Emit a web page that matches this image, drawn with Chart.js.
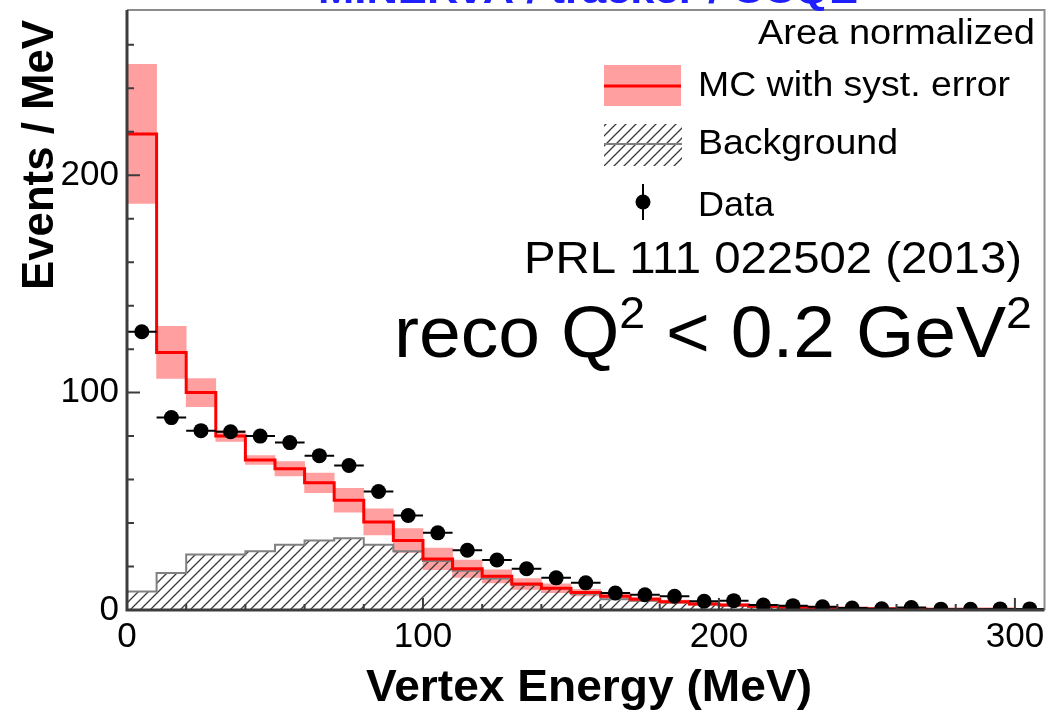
<!DOCTYPE html>
<html>
<head>
<meta charset="utf-8">
<title>Vertex Energy</title>
<script src="https://cdn.jsdelivr.net/npm/chart.js@4/dist/chart.umd.min.js"></script>
<style>
  html, body { margin: 0; padding: 0; background: #fff; }
  canvas { display: block; }
</style>
</head>
<body>
<canvas id="vertex-chart" width="1052" height="711"></canvas>
<script>
// Lower edges of the 10 MeV vertex energy bins
const binStarts = [0, 10, 20, 30, 40, 50, 60, 70, 80, 90, 100, 110, 120, 130, 140, 150,
    160, 170, 180, 190, 200, 210, 220, 230, 240, 250, 260, 270, 280, 290, 300];
const binWidth = 10;

// MC prediction (events / MeV) and its systematic error
const mcValues = [219, 118.5, 100, 80, 69, 65, 58.5, 50.5, 40.5, 32, 23.5, 19, 15.5, 12, 10, 8,
    6.3, 5, 3.8, 2.8, 2.3, 1.7, 1.3, 1.0, 0.8, 0.6, 0.5, 0.4, 0.3, 0.3, 0.2];
const mcSyst = [32, 12, 6.5, 2.5, 2, 3.3, 4.5, 5.5, 6, 5.5, 5, 4, 3, 2.5, 2, 1.5,
    1.2, 1, 0.8, 0.6, 0.5, 0.4, 0.3, 0.2, 0.2, 0.15, 0.1, 0.1, 0.1, 0.1, 0.1];

// Background component
const bkgValues = [8.5, 17, 25.5, 25.5, 27, 30, 32, 33, 30, 27, 22.5, 18, 14.5, 11.5, 10, 7.5,
    5, 4.3, 3.5, 2.6, 2.1, 1.5, 1.1, 0.9, 0.7, 0.5, 0.4, 0.3, 0.3, 0.2, 0.2];

// Data points (bin centres) with statistical errors
const dataValues = [128, 88.5, 82.5, 82, 80, 77, 71, 66.5, 54.5, 43.5, 35.5, 27.5, 23, 19, 14.8, 12.5,
    7.8, 7, 6.3, 4, 4.3, 2.3, 2.0, 1.5, 0.9, 0.6, 1.1, 0.4, 0.3, 0.5, 0.5];
const dataErrors = [2.5, 2, 2, 2, 2, 2, 1.9, 1.8, 1.7, 1.5, 1.4, 1.2, 1.1, 1, 0.9, 0.8,
    0.7, 0.6, 0.6, 0.5, 0.5, 0.4, 0.3, 0.3, 0.2, 0.2, 0.2, 0.1, 0.1, 0.1, 0.1];

const xTickLabels = [0, 100, 200, 300];
const yTickLabels = [0, 100, 200];

const fontFamily = "'Liberation Sans', Arial, Helvetica, sans-serif";

// Diagonal hatch used for the background fill
function makeHatch() {
    const c = document.createElement('canvas');
    c.width = 10;
    c.height = 10;
    const g = c.getContext('2d');
    g.strokeStyle = '#3a3a3a';
    g.lineWidth = 1.3;
    g.beginPath();
    g.moveTo(0, 10); g.lineTo(10, 0);
    g.moveTo(-5, 5); g.lineTo(5, -5);
    g.moveTo(5, 15); g.lineTo(15, 5);
    g.stroke();
    return g.createPattern(c, 'repeat');
}
const hatch = makeHatch();

// Histogram outline: one point per lower bin edge plus the closing edge
function histPoints(values) {
    const pts = binStarts.map((x, i) => ({ x: x, y: values[i] }));
    pts.push({ x: binStarts[binStarts.length - 1] + binWidth, y: values[values.length - 1] });
    return pts;
}

// Draw text squeezed or stretched to a given width
function fitText(ctx, text, x, y, width) {
    const w = ctx.measureText(text).width;
    ctx.save();
    ctx.translate(x, y);
    ctx.scale(width / w, 1);
    ctx.fillText(text, 0, 0);
    ctx.restore();
}

// Text runs with superscripts, e.g. reco Q^2 < 0.2 GeV^2
function drawRich(ctx, parts, x, y, size, width) {
    let total = 0;
    parts.forEach(p => {
        ctx.font = `${p.sup ? size * 0.62 : size}px ${fontFamily}`;
        p.w = ctx.measureText(p.t).width;
        total += p.w;
    });
    const k = width / total;
    ctx.save();
    ctx.translate(x, y);
    ctx.scale(k, 1);
    let cx = 0;
    parts.forEach(p => {
        ctx.font = `${p.sup ? size * 0.62 : size}px ${fontFamily}`;
        ctx.fillText(p.t, cx, p.sup ? -size * 0.40 : 0);
        cx += p.w;
    });
    ctx.restore();
}

// Horizontal bin-width bars and vertical stat errors under the data markers
const errorBars = {
    id: 'errorBars',
    beforeDatasetDraw(chart, args) {
        if (args.meta.label !== 'Data') return;
        const { ctx, scales: { x, y } } = chart;
        ctx.save();
        ctx.strokeStyle = '#000';
        ctx.lineWidth = 2;
        ctx.beginPath();
        binStarts.forEach((b, i) => {
            const py = y.getPixelForValue(dataValues[i]);
            ctx.moveTo(x.getPixelForValue(b), py);
            ctx.lineTo(x.getPixelForValue(b + binWidth), py);
            const px = x.getPixelForValue(b + binWidth / 2);
            ctx.moveTo(px, y.getPixelForValue(dataValues[i] - dataErrors[i]));
            ctx.lineTo(px, y.getPixelForValue(dataValues[i] + dataErrors[i]));
        });
        ctx.stroke();
        ctx.restore();
    }
};

// ROOT-style frame with inward ticks
const frame = {
    id: 'frame',
    afterDatasetsDraw(chart) {
        const { ctx, chartArea: a, scales: { x, y } } = chart;
        ctx.save();
        ctx.strokeStyle = '#8c8c8c';
        ctx.lineWidth = 2;
        ctx.beginPath();
        ctx.moveTo(a.left, a.top);
        ctx.lineTo(a.right, a.top);
        ctx.lineTo(a.right, a.bottom);
        ctx.stroke();

        ctx.strokeStyle = '#3c3c3c';
        ctx.lineWidth = 3;
        ctx.beginPath();
        ctx.moveTo(a.left, a.top);
        ctx.lineTo(a.left, a.bottom);
        ctx.lineTo(a.right, a.bottom);
        ctx.stroke();

        ctx.lineWidth = 2;
        ctx.beginPath();
        for (let v = 0; v <= x.max; v += 20) {
            const px = x.getPixelForValue(v);
            const len = v % 100 === 0 ? 12 : 6;
            ctx.moveTo(px, a.bottom);
            ctx.lineTo(px, a.bottom - len);
        }
        for (let v = 0; v <= y.max; v += 20) {
            const py = y.getPixelForValue(v);
            const len = v % 100 === 0 ? 13 : 7;
            ctx.moveTo(a.left, py);
            ctx.lineTo(a.left + len, py);
        }
        ctx.stroke();
        ctx.restore();
    }
};

// Axis titles, legend and labels
const annotations = {
    id: 'annotations',
    afterDraw(chart) {
        const ctx = chart.ctx;
        ctx.save();
        ctx.textBaseline = 'alphabetic';
        ctx.textAlign = 'left';

        // page heading above the frame
        ctx.fillStyle = '#1f1fff';
        ctx.font = `bold 36px ${fontFamily}`;
        fitText(ctx, 'MINERvA / tracker / CCQE', 318, 3, 540);

        ctx.fillStyle = '#000';
        ctx.font = `bold 44px ${fontFamily}`;
        ctx.save();
        ctx.translate(53, 290);
        ctx.rotate(-Math.PI / 2);
        fitText(ctx, 'Events / MeV', 0, 0, 270);
        ctx.restore();

        ctx.font = `bold 45px ${fontFamily}`;
        fitText(ctx, 'Vertex Energy (MeV)', 366, 701, 446);

        ctx.font = `35px ${fontFamily}`;
        fitText(ctx, 'Area normalized', 758, 44, 277);

        // legend
        ctx.fillStyle = '#ff9f9f';
        ctx.fillRect(604, 65, 77, 41);
        ctx.strokeStyle = '#ff0000';
        ctx.lineWidth = 3;
        ctx.beginPath();
        ctx.moveTo(604, 86);
        ctx.lineTo(681, 86);
        ctx.stroke();

        ctx.fillStyle = hatch;
        ctx.fillRect(604, 124, 78, 42);
        ctx.strokeStyle = '#808080';
        ctx.lineWidth = 2;
        ctx.beginPath();
        ctx.moveTo(604, 144);
        ctx.lineTo(682, 144);
        ctx.stroke();

        ctx.strokeStyle = '#000';
        ctx.beginPath();
        ctx.moveTo(643, 184);
        ctx.lineTo(643, 220);
        ctx.stroke();
        ctx.fillStyle = '#000';
        ctx.beginPath();
        ctx.arc(643, 202, 7.5, 0, Math.PI * 2);
        ctx.fill();

        ctx.font = `35px ${fontFamily}`;
        fitText(ctx, 'MC with syst. error', 698, 96, 312);
        fitText(ctx, 'Background', 698, 154, 200);
        fitText(ctx, 'Data', 698, 216, 76);

        ctx.font = `45px ${fontFamily}`;
        fitText(ctx, 'PRL 111 022502 (2013)', 524, 273, 498);

        drawRich(ctx, [
            { t: 'reco Q' },
            { t: '2', sup: true },
            { t: ' < 0.2 GeV' },
            { t: '2', sup: true }
        ], 394, 357, 72, 638);
        ctx.restore();
    }
};

const chart = new Chart(document.getElementById('vertex-chart'), {
    type: 'line',
    data: {
        datasets: [
            {
                type: 'scatter',
                label: 'Data',
                data: binStarts.map((b, i) => ({ x: b + binWidth / 2, y: dataValues[i] })),
                backgroundColor: '#000',
                borderColor: '#000',
                pointRadius: 7.5,
                pointHoverRadius: 7.5,
                borderWidth: 0,
                showLine: false,
                order: 1
            },
            {
                label: 'MC with syst. error',
                data: histPoints(mcValues),
                stepped: 'before',
                borderColor: '#ff0000',
                borderWidth: 3,
                pointRadius: 0,
                fill: false,
                order: 2
            },
            {
                label: 'Background',
                data: histPoints(bkgValues),
                stepped: 'before',
                borderColor: '#808080',
                borderWidth: 2,
                backgroundColor: hatch,
                pointRadius: 0,
                fill: 'origin',
                order: 3
            },
            {
                type: 'bar',
                label: 'MC syst. band',
                data: binStarts.map((b, i) => ({
                    x: b + binWidth / 2,
                    y: [mcValues[i] - mcSyst[i], mcValues[i] + mcSyst[i]]
                })),
                backgroundColor: '#ff9f9f',
                borderWidth: 0,
                barPercentage: 1,
                categoryPercentage: 1,
                order: 4
            }
        ]
    },
    options: {
        responsive: false,
        devicePixelRatio: 1,
        animation: false,
        layout: { padding: { top: 10, right: 4, left: 0, bottom: 0 } },
        plugins: {
            legend: { display: false },
            tooltip: { enabled: false }
        },
        scales: {
            x: {
                type: 'linear',
                min: 0,
                max: 310,
                offset: false,
                grid: { display: false, drawTicks: false },
                border: { display: false },
                afterBuildTicks: scale => { scale.ticks = xTickLabels.map(v => ({ value: v })); },
                afterFit: scale => {
                    scale.height = 101;
                    scale.paddingLeft = 0;
                    scale.paddingRight = 0;
                },
                ticks: {
                    font: { size: 35, family: fontFamily },
                    color: '#000',
                    padding: 6,
                    maxRotation: 0,
                    autoSkip: false
                }
            },
            y: {
                type: 'linear',
                min: 0,
                max: 276,
                grid: { display: false, drawTicks: false },
                border: { display: false },
                afterBuildTicks: scale => { scale.ticks = yTickLabels.map(v => ({ value: v })); },
                afterFit: scale => {
                    scale.width = 127;
                    scale.paddingTop = 0;
                    scale.paddingBottom = 0;
                },
                ticks: {
                    font: { size: 35, family: fontFamily },
                    color: '#000',
                    padding: 8
                }
            }
        }
    },
    plugins: [errorBars, frame, annotations]
});
</script>
</body>
</html>
